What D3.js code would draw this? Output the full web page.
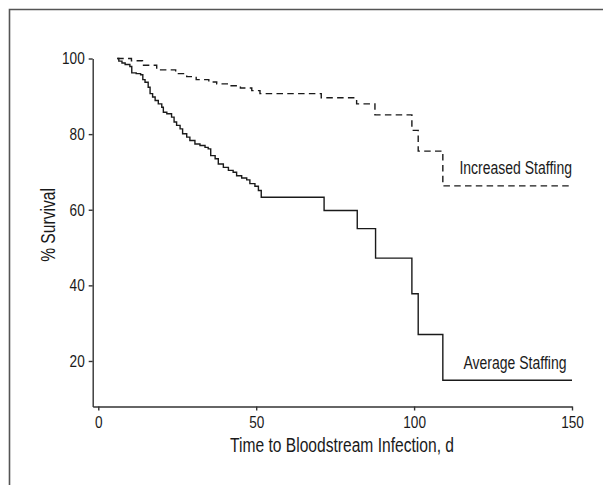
<!DOCTYPE html>
<html>
<head>
<meta charset="utf-8">
<script src="https://cdn.jsdelivr.net/npm/d3@7"></script>
<style>
  body { margin: 0; background: #fff; }
  svg { display: block; font-family: "Liberation Sans", Arial, sans-serif; }
  .axis path, .axis line { stroke: #333; stroke-width: 1.4; }
  .axis text { font-size: 17px; fill: #1a1a1a; }
</style>
</head>
<body>
<svg id="chart" width="603" height="485"></svg>
<script>
const width = 603;
const height = 485;

// Kaplan-Meier steps: [day, % survival after the drop]
const averageStaffing = [
  [6, 100], [6.5, 99.3], [7.5, 98.8], [8.5, 98.4], [10, 97.9], [10.6, 96.2],
  [12, 96.0], [13.4, 95.7], [14.1, 94.4], [14.8, 93.7], [15.8, 92.4], [16.4, 90.7],
  [17.2, 89.8], [18, 88.9], [19, 88.0], [20.1, 87.1], [20.6, 85.8], [21.7, 85.4],
  [23.2, 84.5], [24, 83.2], [24.8, 82.3], [25.9, 81.4], [26.7, 80.1], [28, 79.2],
  [29, 78.3], [30.6, 77.4], [32.2, 77.0], [33.8, 76.5], [34.8, 76.1], [35.6, 74.3],
  [37, 73.5], [38, 72.1], [39.6, 71.2], [41.2, 70.4], [42.7, 69.9], [43.8, 69.0],
  [45.4, 68.4], [47, 67.9], [48, 66.9], [49.6, 66.2], [50.7, 65.1], [51.6, 63.3],
  [71.5, 59.8], [82, 55.0], [87.8, 47.2], [99.3, 37.8], [101.3, 27.0], [109.1, 14.9],
  [150, 14.9]
];

const increasedStaffing = [
  [6, 100], [10.5, 99.4], [14, 98.2], [18.5, 97.0], [24.5, 96.0], [28, 95.2],
  [31, 94.4], [35, 93.8], [37.5, 93.3], [41.2, 92.8], [45, 92.2], [48.6, 91.5],
  [51.2, 90.7], [70.6, 89.6], [81.8, 88.0], [87.6, 85.1], [99.3, 81.0], [101.3, 75.5],
  [109.1, 66.3], [150, 66.3]
];

const xTicks = [0, 50, 100, 150];
const yTicks = [20, 40, 60, 80, 100];

const x = d3.scaleLinear().domain([-1.77, 150]).range([92.7, 572]);
const y = d3.scaleLinear().domain([7.96, 100]).range([406.5, 58.5]);

const svg = d3.select("#chart");

// frame
svg.append("path")
  .attr("d", `M9.5,${height} V9.5 H${width}`)
  .attr("fill", "none")
  .attr("stroke", "#555")
  .attr("stroke-width", 1.6);

svg.append("g")
  .attr("class", "axis")
  .attr("transform", "translate(0,406.5)")
  .call(d3.axisBottom(x).tickValues(xTicks).tickSize(4).tickSizeOuter(0).tickPadding(5));

svg.append("g")
  .attr("class", "axis")
  .attr("transform", "translate(92.7,0)")
  .call(d3.axisLeft(y).tickValues(yTicks).tickSize(4).tickSizeOuter(0).tickPadding(4));

svg.selectAll(".axis").attr("font-family", null).attr("font-size", null);

const line = d3.line()
  .x(d => x(d[0]))
  .y(d => y(d[1]))
  .curve(d3.curveStepAfter);

svg.append("path")
  .datum(averageStaffing)
  .attr("d", line)
  .attr("fill", "none")
  .attr("stroke", "#1a1a1a")
  .attr("stroke-width", 1.4);

svg.append("path")
  .datum(increasedStaffing)
  .attr("d", line)
  .attr("fill", "none")
  .attr("stroke", "#1a1a1a")
  .attr("stroke-width", 1.4)
  .attr("stroke-dasharray", "6.5,4.3");

svg.append("text")
  .attr("x", 572)
  .attr("y", 174)
  .attr("text-anchor", "end")
  .attr("font-size", 17.5)
  .attr("fill", "#1a1a1a")
  .text("Increased Staffing");

svg.append("text")
  .attr("x", 566.5)
  .attr("y", 369)
  .attr("text-anchor", "end")
  .attr("font-size", 17.5)
  .attr("fill", "#1a1a1a")
  .text("Average Staffing");

svg.append("text")
  .attr("x", 342)
  .attr("y", 452)
  .attr("text-anchor", "middle")
  .attr("font-size", 19.5)
  .attr("fill", "#1a1a1a")
  .text("Time to Bloodstream Infection, d");

svg.append("text")
  .attr("transform", "translate(55,225) rotate(-90)")
  .attr("text-anchor", "middle")
  .attr("font-size", 19.5)
  .attr("fill", "#1a1a1a")
  .text("% Survival");

// squeeze glyphs to a narrow face
svg.selectAll("text").each(function() {
  const w = this.getComputedTextLength();
  d3.select(this).attr("textLength", w * 0.8).attr("lengthAdjust", "spacingAndGlyphs");
});
</script>
</body>
</html>
